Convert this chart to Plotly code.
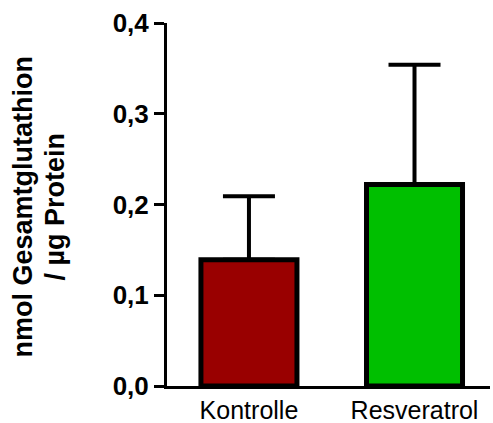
import plotly.graph_objects as go

# Glutathione content per group (mean with upper SD)
groups = ["Kontrolle", "Resveratrol"]
means = [0.139, 0.222]
sd_upper = [0.070, 0.132]
sd_lower = [0.0, 0.0]
bar_colors = ["#990000", "#00BF00"]

y_ticks = [0.0, 0.1, 0.2, 0.3, 0.4]
y_tick_text = ["0,0", "0,1", "0,2", "0,3", "0,4"]
y_title_lines = ["nmol Gesamtglutathion", "/ µg Protein"]

W, H = 493, 423
M_L, M_R, M_T, M_B = 167, 3, 23, 37
plot_w = W - M_L - M_R
plot_h = H - M_T - M_B

fig = go.Figure(
    go.Bar(
        x=[0, 1],
        y=means,
        width=0.58,
        marker=dict(color=bar_colors, line=dict(color="black", width=5)),
        error_y=dict(
            type="data",
            symmetric=False,
            array=sd_upper,
            arrayminus=sd_lower,
            color="black",
            thickness=4,
            width=26,
        ),
    )
)

# two-line rotated y-axis title, each line placed at its own column
title_x_px = [22, 54]
title_y_px = 206.5
for line, xp in zip(y_title_lines, title_x_px):
    fig.add_annotation(
        text=f"<b>{line}</b>",
        xref="paper",
        yref="paper",
        x=(xp - M_L) / plot_w,
        y=(H - M_B - title_y_px) / plot_h,
        xanchor="center",
        yanchor="middle",
        textangle=-90,
        showarrow=False,
        font=dict(size=27, color="black"),
    )

fig.update_layout(
    width=W,
    height=H,
    margin=dict(l=M_L, r=M_R, t=M_T, b=M_B, autoexpand=False),
    paper_bgcolor="white",
    plot_bgcolor="white",
    showlegend=False,
    font=dict(family="Liberation Sans, Arial, sans-serif", color="black"),
)

fig.update_xaxes(
    range=[-0.495, 1.456],
    tickmode="array",
    tickvals=[0, 1],
    ticktext=groups,
    tickfont=dict(size=25),
    showline=True,
    linecolor="black",
    linewidth=3,
    ticks="",
    showgrid=False,
    zeroline=False,
    automargin=False,
)

fig.update_yaxes(
    range=[0, 0.4],
    tickmode="array",
    tickvals=y_ticks,
    ticktext=y_tick_text,
    tickfont=dict(size=26, weight="bold"),
    showline=True,
    linecolor="black",
    linewidth=3,
    ticks="outside",
    ticklen=10,
    tickwidth=3,
    tickcolor="black",
    showgrid=False,
    zeroline=False,
    automargin=False,
)

fig.write_html("out.html")
